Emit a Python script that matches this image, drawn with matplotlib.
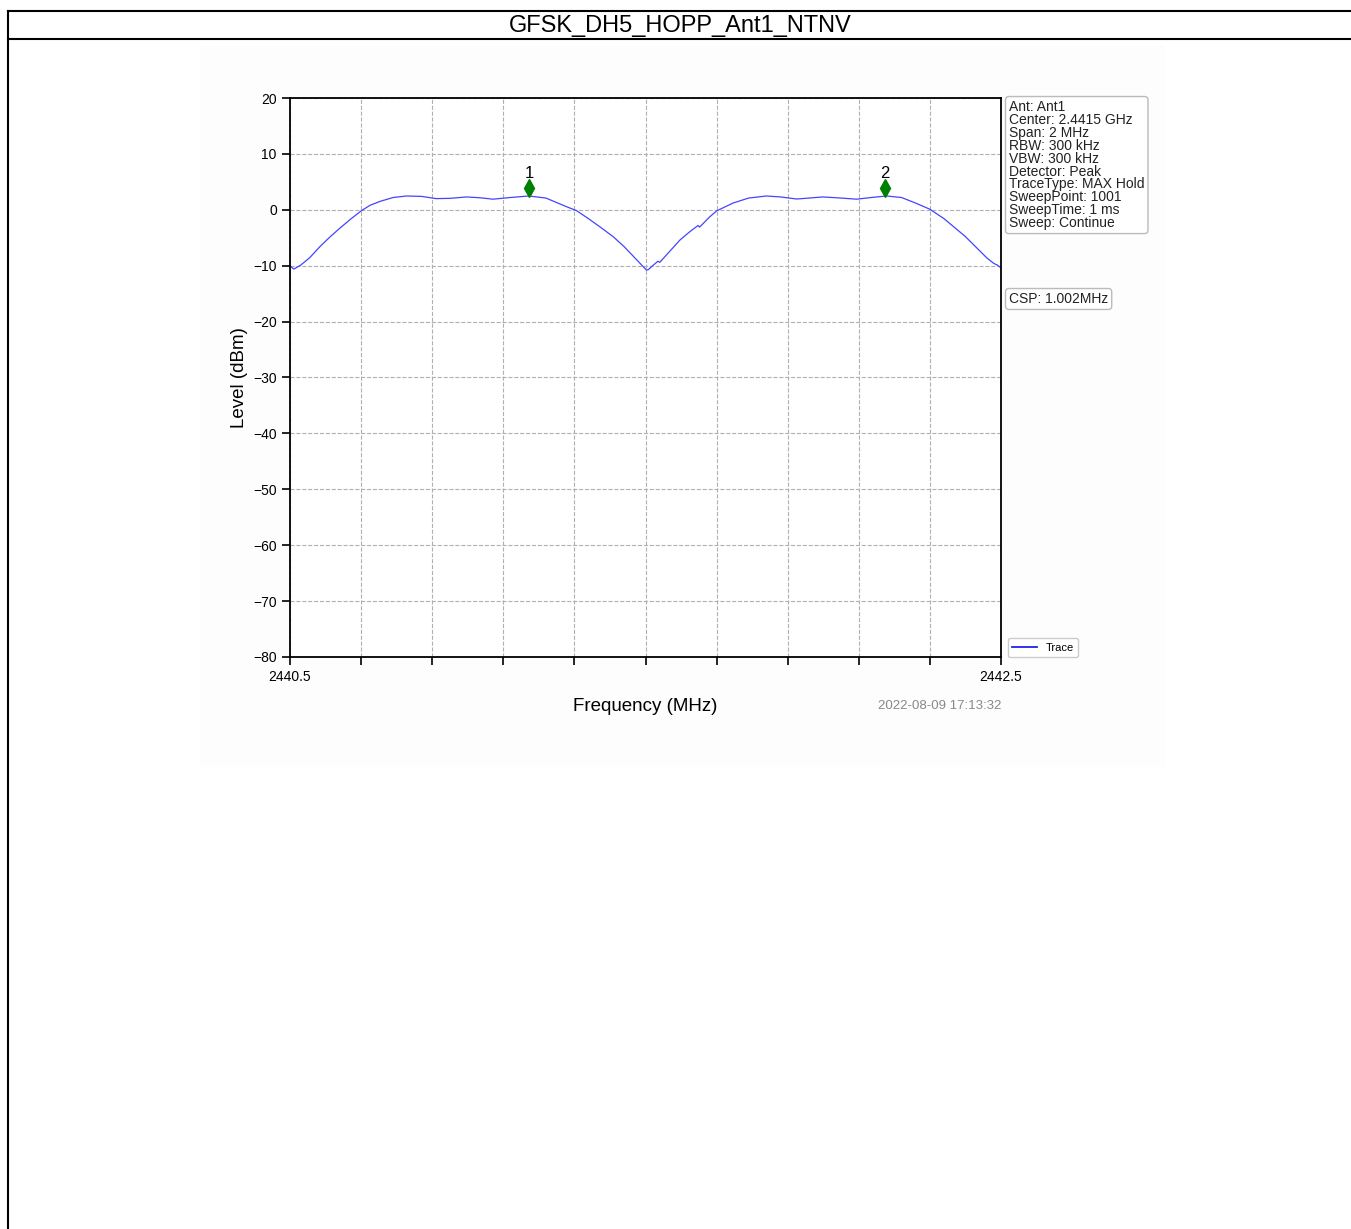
import numpy as np
import matplotlib
matplotlib.use("Agg")
import matplotlib.pyplot as plt
from matplotlib.patches import Rectangle
from matplotlib.lines import Line2D
from matplotlib.transforms import ScaledTranslation

plt.rcParams['font.family'] = ['Liberation Sans', 'DejaVu Sans']

# Trace (MHz, dBm)
freq_mhz = [2440.500, 2440.505, 2440.511, 2440.530, 2440.555, 2440.584, 2440.610,
            2440.640, 2440.670, 2440.700, 2440.725, 2440.753, 2440.790, 2440.828,
            2440.870, 2440.911, 2440.950, 2440.997, 2441.035, 2441.071, 2441.120,
            2441.172, 2441.220, 2441.278, 2441.306, 2441.340, 2441.375, 2441.409,
            2441.440, 2441.470, 2441.503, 2441.508, 2441.520, 2441.535, 2441.540,
            2441.570, 2441.597, 2441.625, 2441.648, 2441.652, 2441.660, 2441.680,
            2441.700, 2441.746, 2441.790, 2441.840, 2441.880, 2441.925, 2441.960,
            2441.999, 2442.050, 2442.094, 2442.135, 2442.178, 2442.220, 2442.260,
            2442.300, 2442.340, 2442.370, 2442.400, 2442.430, 2442.460, 2442.480,
            2442.490, 2442.500]
level_dbm = [-10.0, -10.3, -10.6, -9.9, -8.6, -6.6, -5.0,
             -3.3, -1.7, -0.2, 0.8, 1.5, 2.2, 2.47,
             2.4, 2.0, 2.05, 2.3, 2.15, 1.9, 2.2,
             2.47, 2.1, 0.55, -0.15, -1.6, -3.2, -4.8,
             -6.6, -8.6, -10.8, -10.7, -10.0, -9.2, -9.4,
             -7.3, -5.4, -3.9, -2.8, -3.1, -2.6, -1.3,
             -0.2, 1.2, 2.1, 2.47, 2.3, 1.93, 2.1,
             2.3, 2.1, 1.9, 2.2, 2.47, 2.2, 1.2,
             0.1, -1.6, -3.2, -4.8, -6.7, -8.6, -9.6,
             -9.9, -10.4]

marker_freq = [2441.172, 2442.174]
marker_level = [2.47, 2.47]
marker_names = ['1', '2']

info_lines = ["Ant: Ant1", "Center: 2.4415 GHz", "Span: 2 MHz", "RBW: 300 kHz",
              "VBW: 300 kHz", "Detector: Peak", "TraceType: MAX Hold",
              "SweepPoint: 1001", "SweepTime: 1 ms", "Sweep: Continue"]
csp_text = "CSP: 1.002MHz"
timestamp = "2022-08-09 17:13:32"
page_title = "GFSK_DH5_HOPP_Ant1_NTNV"

fig = plt.figure(figsize=(13.51, 12.29), dpi=100)
W, H = 1351, 1229

def fx(px):
    return px / W

def fy(py):
    return 1 - py / H

# page frame and header
fig.add_artist(Line2D([fx(8), fx(8)], [fy(11), 0], color='black', lw=1.5))
fig.add_artist(Line2D([fx(8), 1], [fy(11), fy(11)], color='black', lw=1.5))
fig.add_artist(Line2D([fx(8), 1], [fy(39), fy(39)], color='black', lw=1.5))
fig.text(fx(680), fy(26), page_title, ha='center', va='center', fontsize=17)

# very light background of the embedded chart image
fig.add_artist(Rectangle((fx(200), fy(767)), fx(965), (767 - 45) / H,
                         facecolor='#fdfdfd', edgecolor='none', zorder=0))

ax = fig.add_axes([fx(290), fy(657), fx(711), (657 - 98) / H])
ax.set_facecolor('white')
ax.plot(freq_mhz, level_dbm, color='#4444ff', lw=0.9, label='Trace')

# markers shifted slightly above the peaks
off_m = ax.transData + ScaledTranslation(0, 6 / 72, fig.dpi_scale_trans)
off_t = ax.transData + ScaledTranslation(0, 16 / 72, fig.dpi_scale_trans)
ax.plot(marker_freq, marker_level, linestyle='none', marker='d', color='green',
        markersize=9, transform=off_m)
for f, l, n in zip(marker_freq, marker_level, marker_names):
    ax.text(f, l, n, transform=off_t, ha='center', va='center', fontsize=12)

ax.set_xlim(2440.5, 2442.5)
ax.set_ylim(-80, 20)
xt = np.linspace(2440.5, 2442.5, 11)
ax.set_xticks(xt)
ax.set_xticklabels(['2440.5'] + [''] * 9 + ['2442.5'])
ax.set_yticks(np.arange(-80, 21, 10))
ax.tick_params(axis='both', labelsize=10, length=6, width=1.2, direction='out')
for s in ax.spines.values():
    s.set_linewidth(1.3)
ax.grid(True, linestyle='--', color='#b0b0b0', linewidth=0.8)
ax.set_xlabel("Frequency (MHz)", fontsize=13.5, labelpad=10)
ax.set_ylabel("Level (dBm)", fontsize=13.5, labelpad=4)

leg = ax.legend(loc='lower left', bbox_to_anchor=(1.002, -0.01), fontsize=8,
                frameon=True, framealpha=1, edgecolor='#cccccc', handlelength=2.2,
                borderpad=0.4)
leg.get_lines()[0].set_color('#2222ee')
leg.get_lines()[0].set_linewidth(1.3)

box = dict(boxstyle='round,pad=0.25', facecolor='white', edgecolor='#bbbbbb')
fig.text(fx(1009), fy(100), "\n".join(info_lines), ha='left', va='top',
         fontsize=10, linespacing=0.9, color='#222222', bbox=box)
fig.text(fx(1009), fy(299), csp_text, ha='left', va='center', fontsize=10,
         color='#222222', bbox=box)
fig.text(fx(1001), fy(706), timestamp, ha='right', va='center', fontsize=9.5,
         color='#888888')

fig.savefig("out.png", dpi=100)
